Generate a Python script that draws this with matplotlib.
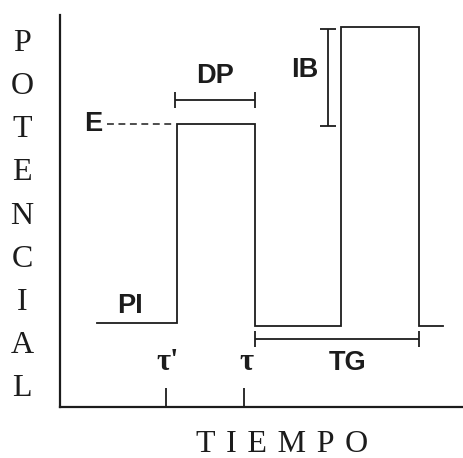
import matplotlib
matplotlib.use("Agg")
import matplotlib.pyplot as plt

# Potential step sequence (time, potential) in arbitrary units
step_times = [37, 117, 117, 195, 195, 281, 281, 359, 359, 383]
step_potentials = [84, 84, 283, 283, 81, 81, 380, 380, 81, 81]

# Annotated quantities
e_level = 283            # step potential E
e_dash_span = (47, 115)
dp_span = (115, 195)      # pulse duration DP
dp_level = 307
ib_span = (281, 378)      # pulse amplitude IB
ib_time = 268
tg_span = (195, 359)      # total time TG
tg_level = 68
tick_times = [106, 184]
tick_labels = ["τ'", "τ"]

ink = "#1c1c1c"
sans = "Liberation Sans"
serif = "Liberation Serif"

fig = plt.figure(figsize=(4.63, 4.58), dpi=100)
ax = fig.add_axes([60 / 463, 51 / 458, 403 / 463, 392 / 458])
ax.set_xlim(0, 403)
ax.set_ylim(0, 392)

for side in ("top", "right"):
    ax.spines[side].set_visible(False)
for side in ("left", "bottom"):
    ax.spines[side].set_linewidth(1.6)
    ax.spines[side].set_color(ink)

ax.set_yticks([])
ax.set_xticks(tick_times)
ax.set_xticklabels([])
ax.tick_params(axis="x", direction="in", length=14, width=1.3, color=ink)

# waveform
ax.plot(step_times, step_potentials, color=ink, lw=1.3, solid_joinstyle="miter")

# E level dashed guide
ax.plot(e_dash_span, [e_level, e_level], color=ink, lw=1.1, ls=(0, (4.5, 3)))
ax.text(33, e_level, "E", fontsize=19.5, fontweight="bold", family=sans,
        ha="center", va="center", color=ink)

# DP bar
ax.errorbar([(dp_span[0] + dp_span[1]) / 2], [dp_level],
            xerr=[(dp_span[1] - dp_span[0]) / 2], color=ink, lw=1.3,
            capsize=6, capthick=1.3)
ax.text(155, 331, "DP", fontsize=19.5, fontweight="bold", family=sans,
        ha="center", va="center", color=ink)

# IB bar
ax.errorbar([ib_time], [(ib_span[0] + ib_span[1]) / 2],
            yerr=[(ib_span[1] - ib_span[0]) / 2], color=ink, lw=1.3,
            capsize=6, capthick=1.3)
ax.text(245, 337, "IB", fontsize=19.5, fontweight="bold", family=sans,
        ha="center", va="center", color=ink)

# TG bar
ax.errorbar([(tg_span[0] + tg_span[1]) / 2], [tg_level],
            xerr=[(tg_span[1] - tg_span[0]) / 2], color=ink, lw=1.3,
            capsize=6, capthick=1.3)
ax.text(288, 44, "TG", fontsize=19.5, fontweight="bold", family=sans,
        ha="center", va="center", color=ink)

ax.text(70, 101, "PI", fontsize=19.5, fontweight="bold", family=sans,
        ha="center", va="center", color=ink)

for t, lab in zip(tick_times, tick_labels):
    ax.text(t + 2, 44, lab, fontsize=22, fontweight="bold", family=serif,
            ha="center", va="center", color=ink)

# axis titles
fig.text(22 / 463, 1 - 216 / 458, "\n".join("POTENCIAL"), fontsize=23,
         family=serif, ha="center", va="center", linespacing=1.64, color=ink)
fig.text(282 / 463, 1 - 444 / 458, "\u2004".join("TIEMPO"), fontsize=23,
         family=serif, ha="center", va="center", color=ink)

fig.savefig("out.png", dpi=100)
